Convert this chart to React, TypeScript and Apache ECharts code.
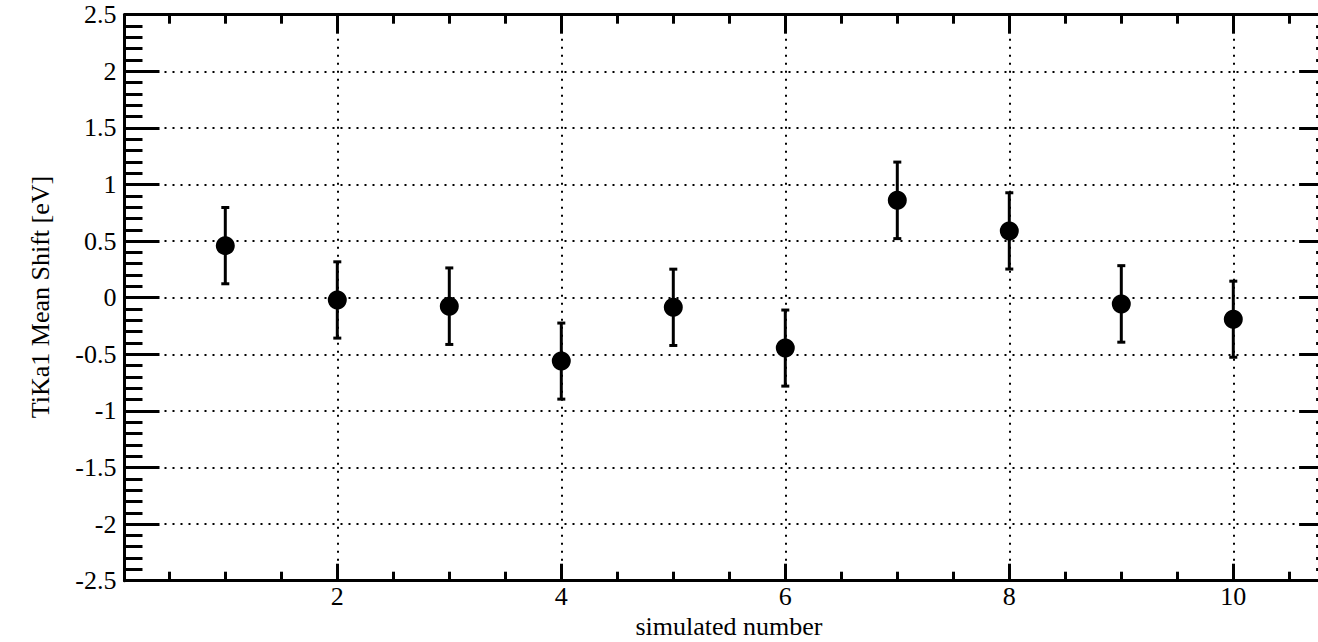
import React, { useEffect, useRef } from "react";
import * as echarts from "echarts";

// ---- data ----
const simulatedNumbers = [1, 2, 3, 4, 5, 6, 7, 8, 9, 10];
const meanShift = [0.46, -0.02, -0.075, -0.56, -0.085, -0.445, 0.86, 0.59, -0.055, -0.19];
const meanShiftError = [0.337, 0.337, 0.338, 0.336, 0.337, 0.336, 0.338, 0.337, 0.338, 0.336];

const xTitle = "simulated number";
const yTitle = "TiKa1 Mean Shift [eV]";

const X_MIN = 0.1;
const X_MAX = 10.9;
const Y_MIN = -2.5;
const Y_MAX = 2.5;

const FONT = '"Liberation Serif", "DejaVu Serif", serif';

export default function App() {
  const ref = useRef<HTMLDivElement>(null);

  useEffect(() => {
    if (!ref.current) return;
    const chart = echarts.init(ref.current, undefined, { renderer: "svg" });

    const points = simulatedNumbers.map((x, i) => [x, meanShift[i]]);
    const bars = simulatedNumbers.map((x, i) => [x, meanShift[i], meanShiftError[i]]);

    const grid = {
      left: 124.5,
      width: 1209.6,
      top: 14.7,
      height: 566,
      containLabel: false,
      outerBoundsMode: "none",
    };

    const commonX = {
      type: "value",
      min: X_MIN,
      max: X_MAX,
      splitNumber: 5,
      axisLine: { show: true, onZero: false, lineStyle: { color: "#000", width: 3 } },
      minorTick: { show: true, splitNumber: 4, length: 9, lineStyle: { color: "#000", width: 3 } },
    };

    const commonY = {
      type: "value",
      min: Y_MIN,
      max: Y_MAX,
      interval: 0.5,
      axisLine: { show: true, onZero: false, lineStyle: { color: "#000", width: 3 } },
      axisTick: { show: true, inside: true, length: 35, lineStyle: { color: "#000", width: 3 } },
      minorTick: { show: true, splitNumber: 5, length: 18, lineStyle: { color: "#000", width: 3 } },
    };

    chart.setOption({
      animation: false,
      backgroundColor: "#fff",
      grid,
      xAxis: [
        {
          ...commonX,
          position: "bottom",
          axisTick: { show: true, inside: true, length: 17, lineStyle: { color: "#000", width: 3 } },
          axisLabel: {
            show: true,
            showMinLabel: false,
            showMaxLabel: false,
            margin: 3,
            color: "#000",
            fontFamily: FONT,
            fontSize: 26,
          },
          splitLine: { show: true, lineStyle: { color: "#000", width: 2, type: [2, 6] } },
        },
        {
          ...commonX,
          position: "top",
          axisTick: { show: true, inside: true, length: 19, lineStyle: { color: "#000", width: 3 } },
          axisLabel: { show: false },
          splitLine: { show: false },
        },
      ],
      yAxis: [
        {
          ...commonY,
          position: "left",
          axisLabel: {
            show: true,
            margin: 8,
            color: "#000",
            fontFamily: FONT,
            fontSize: 26,
          },
          splitLine: { show: true, lineStyle: { color: "#000", width: 2, type: [2, 6] } },
        },
        {
          ...commonY,
          position: "right",
          axisLabel: { show: false },
          splitLine: { show: false },
        },
      ],
      graphic: [
        {
          type: "text",
          x: 729,
          y: 626,
          style: {
            text: xTitle,
            font: `26px ${FONT}`,
            fill: "#000",
            textAlign: "center",
            textVerticalAlign: "middle",
          },
        },
        {
          type: "text",
          x: 40.5,
          y: 297,
          rotation: Math.PI / 2,
          style: {
            text: yTitle,
            font: `26px ${FONT}`,
            fill: "#000",
            textAlign: "center",
            textVerticalAlign: "middle",
          },
        },
      ],
      series: [
        {
          type: "custom",
          xAxisIndex: 0,
          yAxisIndex: 0,
          data: bars,
          encode: { x: 0, y: 1 },
          z: 3,
          renderItem: (params: any, api: any) => {
            const x = api.value(0);
            const y = api.value(1);
            const e = api.value(2);
            const top = api.coord([x, y + e]);
            const bot = api.coord([x, y - e]);
            const hw = 4;
            const style = { stroke: "#000", lineWidth: 3 };
            return {
              type: "group",
              children: [
                { type: "line", shape: { x1: top[0], y1: top[1], x2: bot[0], y2: bot[1] }, style },
                { type: "line", shape: { x1: top[0] - hw, y1: top[1], x2: top[0] + hw, y2: top[1] }, style },
                { type: "line", shape: { x1: bot[0] - hw, y1: bot[1], x2: bot[0] + hw, y2: bot[1] }, style },
              ],
            };
          },
        },
        {
          type: "scatter",
          xAxisIndex: 0,
          yAxisIndex: 0,
          data: points,
          symbol: "circle",
          symbolSize: 19,
          itemStyle: { color: "#000", opacity: 1 },
          z: 4,
        },
      ],
    });

    return () => chart.dispose();
  }, []);

  return (
    <div
      ref={ref}
      style={{ position: "absolute", left: 0, top: 0, width: 1318, height: 642, background: "#fff" }}
    />
  );
}
